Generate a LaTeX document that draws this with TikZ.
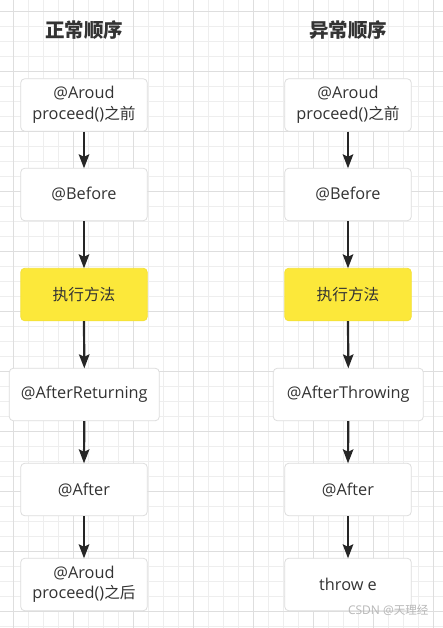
\documentclass[tikz,border=0pt]{standalone}
\usepackage{fontspec}
\setmainfont{Open Sans}
\newfontfamily\cjkf[Scale=0.96]{Noto Sans CJK SC}
\newfontfamily\cjkt{Noto Sans CJK SC}
\newcommand{\zh}[1]{{\cjkf #1}}
\usetikzlibrary{arrows.meta}
\definecolor{minorgrid}{HTML}{EEEEEE}
\definecolor{majorgrid}{HTML}{DEDEDE}
\definecolor{boxline}{HTML}{DDDDDD}
\definecolor{txt}{HTML}{333333}
\definecolor{arr}{HTML}{262626}
\definecolor{yel}{HTML}{FCE83A}
\definecolor{wm}{HTML}{B8B8B8}
\tikzset{
  stepbox/.style={draw=boxline, line width=0.8pt, fill=white, rounded corners=4pt,
    minimum width=126.5pt, minimum height=52.5pt, inner sep=0pt, align=center,
    text=txt, font=\fontsize{16.3}{20.5}\selectfont},
  widebox/.style={stepbox, minimum width=150pt},
  yellowbox/.style={stepbox, fill=yel, draw=yel!90!black!30!yel},
  titletext/.style={text=txt, font=\fontsize{19.5}{22}\selectfont\cjkt\bfseries},
  flow/.style={draw=arr, line width=2.2pt, -{Stealth[length=14pt,width=10.5pt,inset=2.5pt]}, shorten >=-0.5pt},
}
\begin{document}
\begin{tikzpicture}[x=1pt,y=-1pt]
\useasboundingbox (0,0) rectangle (443,628);
\fill[white] (0,0) rectangle (443,628);
% grid
\foreach \i in {0,...,29} {
  \draw[minorgrid, line width=0.7pt] ({13.3+15*\i-15},0) -- ({13.3+15*\i-15},628);
}
\foreach \j in {0,...,42} {
  \draw[minorgrid, line width=0.7pt] (0,{11.7+15*\j-15}) -- (443,{11.7+15*\j-15});
}
\foreach \i in {0,...,7} {
  \draw[majorgrid, line width=0.8pt] ({13.3+60*\i},0) -- ({13.3+60*\i},628);
}
\foreach \j in {0,...,10} {
  \draw[majorgrid, line width=0.8pt] (0,{11.7+60*\j}) -- (443,{11.7+60*\j});
}
% titles
\node[titletext] (t1) at (84,30) {正常顺序};
\node[titletext] (t2) at (348,30) {异常顺序};
% left column
\node[stepbox] (l1) at (84,105) {@Aroud\\proceed()\zh{之前}};
\node[stepbox] (l2) at (84,194.5) {@Before};
\node[yellowbox] (l3) at (84,294.5) {\zh{执行方法}};
\node[widebox] (l4) at (84.3,394.5) {@AfterReturning};
\node[stepbox] (l5) at (84,489.5) {@After};
\node[stepbox] (l6) at (84,584.5) {@Aroud\\proceed()\zh{之后}};
% right column
\node[stepbox] (r1) at (348,105) {@Aroud\\proceed()\zh{之前}};
\node[stepbox] (r2) at (348,194.5) {@Before};
\node[yellowbox] (r3) at (348,294.5) {\zh{执行方法}};
\node[widebox] (r4) at (348.3,394.5) {@AfterThrowing};
\node[stepbox] (r5) at (348,489.5) {@After};
\node[stepbox] (r6) at (348,584.5) {throw e};
% arrows
\foreach \a/\b in {l1/l2,l2/l3,l3/l4,l4/l5,l5/l6,r1/r2,r2/r3,r3/r4,r4/r5,r5/r6} {
  \draw[flow] (\a.south) -- (\b.north);
}
% watermark
\node[text=wm, font=\fontsize{12}{14}\selectfont, anchor=east] (wmk) at (432,610) {CSDN @\zh{天理经}};
\end{tikzpicture}
\end{document}
